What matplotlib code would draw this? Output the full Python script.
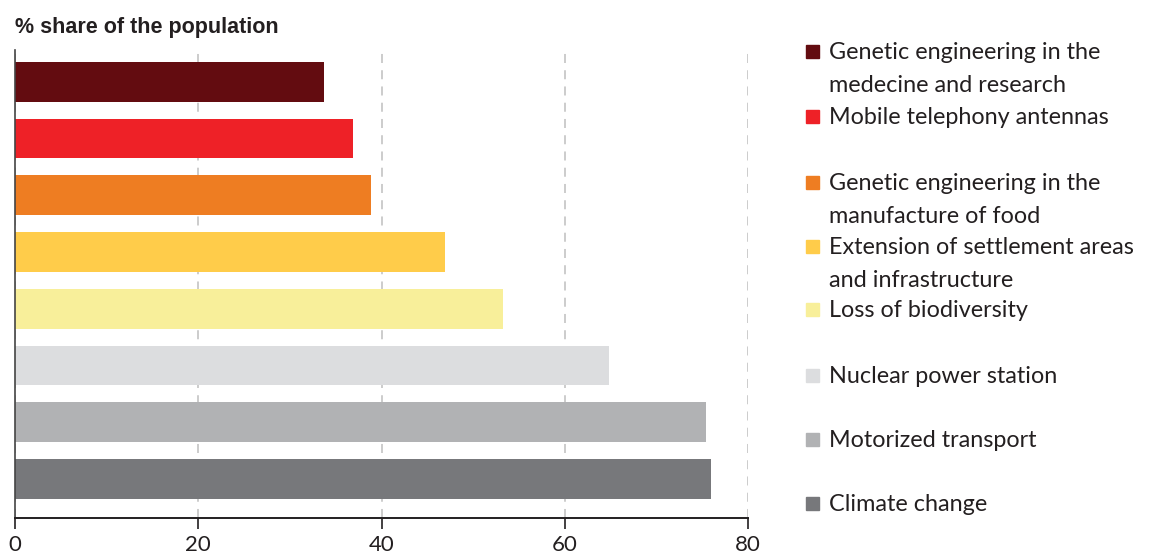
import matplotlib
matplotlib.use("Agg")
import matplotlib.pyplot as plt
from matplotlib.patches import Rectangle

# data, top bar first
categories = [
    "Genetic engineering in the\nmedecine and research",
    "Mobile telephony antennas",
    "Genetic engineering in the\nmanufacture of food",
    "Extension of settlement areas\nand infrastructure",
    "Loss of biodiversity",
    "Nuclear power station",
    "Motorized transport",
    "Climate change",
]
shares = [33.7, 36.9, 38.9, 46.9, 53.3, 64.8, 75.4, 76.0]
colors = ["#630C10", "#EE2127", "#EE7D22", "#FFCC4A",
          "#F8EF9A", "#DCDDDF", "#B1B2B4", "#77787B"]
xticks = [0, 20, 40, 60, 80]

text_col = "#231F20"

fig = plt.figure(figsize=(11.53, 5.58), dpi=100)
ax = fig.add_axes([15 / 1153, 40 / 558, 733 / 1153, 468 / 558])

ypos = list(range(len(shares)))
ax.barh(ypos, shares, height=0.7, color=colors, zorder=2)

ax.set_xlim(0, 80)
ax.set_ylim(len(shares) - 1 + 0.69, -0.56)
ax.set_xticks(xticks)
ax.set_xticklabels([str(t) for t in xticks], fontfamily="Lato", fontsize=16, color=text_col)
ax.set_yticks([])
ax.tick_params(axis="x", direction="out", length=8, width=1.2, color=text_col, pad=4)
ax.xaxis.grid(True, linestyle=(0, (5, 4)), color="#C8C8C8", linewidth=1.3, zorder=0)
ax.set_axisbelow(True)
for s in ["top", "right"]:
    ax.spines[s].set_visible(False)
ax.spines["left"].set_color("#444444")
ax.spines["left"].set_linewidth(1.2)
ax.spines["bottom"].set_color(text_col)
ax.spines["bottom"].set_linewidth(1.4)

fig.text(15 / 1153, 1 - 28 / 558, "% share of the population", fontfamily="Liberation Sans",
         fontweight="bold", fontsize=15.5, color=text_col, va="center", ha="left")

# legend, drawn by hand to keep the uneven spacing
legend_y = [51, 116, 182, 246, 309, 375, 439, 503]
for lab, col, y in zip(categories, colors, legend_y):
    fig.patches.append(Rectangle((806 / 1153, 1 - (y + 7) / 558), 13 / 1153, 13 / 558,
                                 transform=fig.transFigure, color=col))
    fig.text(829 / 1153, 1 - (y - 9) / 558, lab, fontfamily="Lato", fontsize=16.8,
             color=text_col, va="top", ha="left", linespacing=1.72)

fig.savefig("out.png", dpi=100)
